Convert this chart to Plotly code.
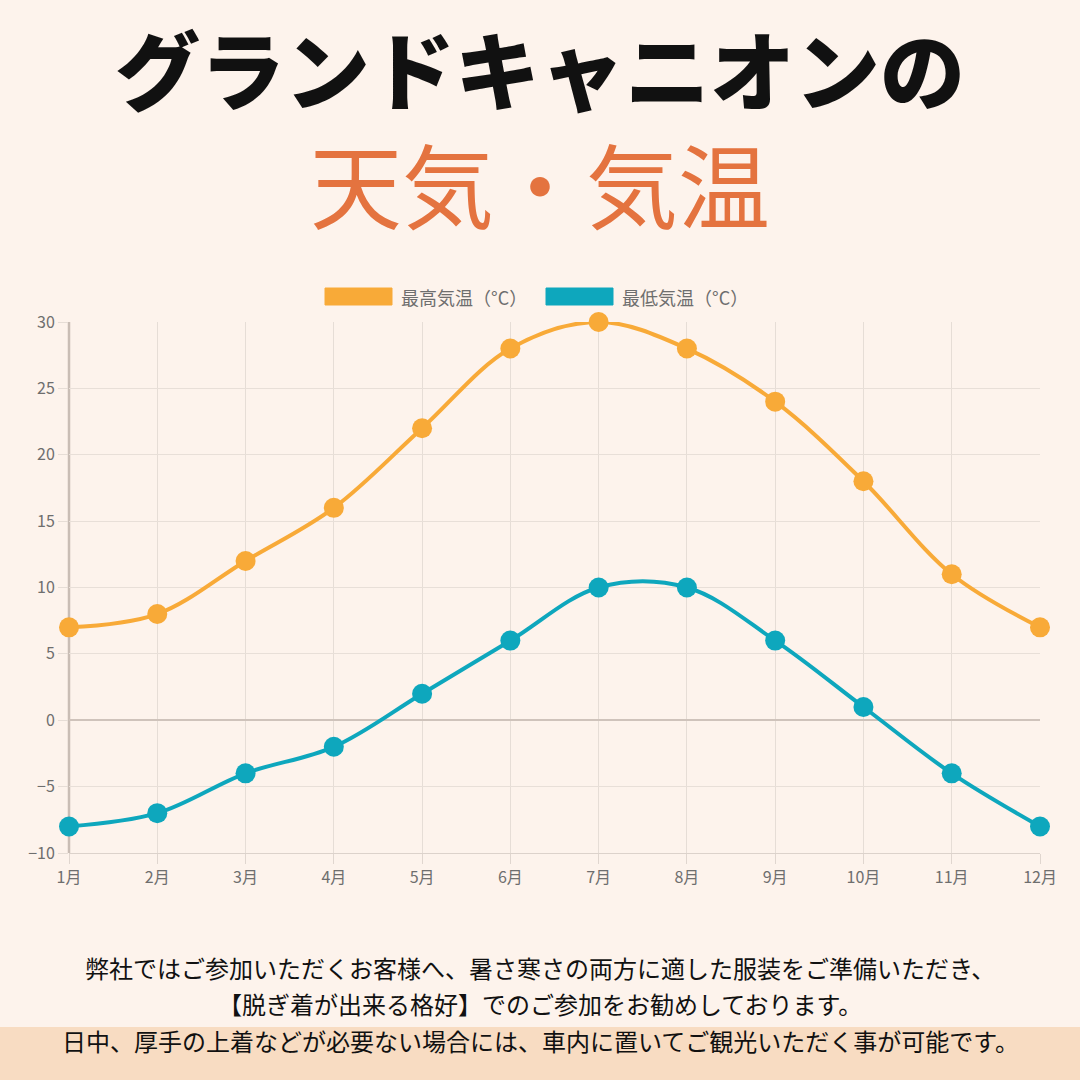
import plotly.graph_objects as go

months = ["1月", "2月", "3月", "4月", "5月", "6月", "7月", "8月", "9月", "10月", "11月", "12月"]
high_temp = [7, 8, 12, 16, 22, 28, 30, 28, 24, 18, 11, 7]
low_temp = [-8, -7, -4, -2, 2, 6, 10, 10, 6, 1, -4, -8]
series_names = ["最高気温（°C）", "最低気温（°C）"]
y_ticks = [-10, -5, 0, 5, 10, 15, 20, 25, 30]

ORANGE = "#F8AA38"
TEAL = "#0EA7BD"
BG = "#FDF3EC"
FONT = "Noto Sans CJK JP"

fig = go.Figure()
for vals, color, name in [(high_temp, ORANGE, series_names[0]), (low_temp, TEAL, series_names[1])]:
    fig.add_trace(go.Scatter(
        x=months, y=vals, name=name, mode="lines+markers",
        line=dict(color=color, width=4, shape="spline", smoothing=1.0),
        marker=dict(color=color, size=20),
        cliponaxis=False, showlegend=False,
    ))

W, H = 1080, 1080
ml, mr, mt, mb = 69, 40, 322, 227
fig.update_layout(
    width=W, height=H,
    margin=dict(l=ml, r=mr, t=mt, b=mb),
    paper_bgcolor=BG, plot_bgcolor=BG,
    font=dict(family=FONT, color="#6E6E6E", size=16),
    xaxis=dict(
        range=[0, 11], showgrid=True, gridcolor="#E6DDD6", gridwidth=1,
        ticks="outside", ticklen=10, tickcolor="#E0D6CF",
        tickfont=dict(size=16, color="#6E6E6E"),
        showline=True, linecolor="#DCD2CB", mirror=False, zeroline=False,
        fixedrange=True,
    ),
    yaxis=dict(
        range=[-10, 30], tickvals=y_ticks, showgrid=True, gridcolor="#E8DFD8", gridwidth=1,
        ticks="outside", ticklen=10, tickcolor="#E6DDD6",
        tickfont=dict(size=16, color="#6E6E6E"),
        zeroline=True, zerolinecolor="#CFC3BB", zerolinewidth=1.5,
        showline=False,
    ),
    showlegend=False,
)

# y axis left line (darker)
fig.add_shape(type="line", xref="paper", yref="paper", x0=0, x1=0, y0=0, y1=1,
              line=dict(color="#C9BDB5", width=2.5), layer="below")

# bottom band
fig.add_shape(type="rect", xref="paper", yref="paper",
              x0=-ml / (W - ml - mr), x1=1 + mr / (W - ml - mr),
              y0=-mb / (H - mt - mb), y1=-(mb - 53) / (H - mt - mb),
              fillcolor="#F8DCC2", line=dict(width=0), layer="below")

def px_x(x):
    return (x - ml) / (W - ml - mr)

def px_y(y):
    return (H - mb - y) / (H - mt - mb)

# custom legend
legend_items = [(ORANGE, series_names[0], 325), (TEAL, series_names[1], 546)]
for color, name, x0 in legend_items:
    fig.add_shape(type="rect", xref="paper", yref="paper",
                  x0=px_x(x0), x1=px_x(x0 + 67), y0=px_y(305), y1=px_y(288),
                  fillcolor=color, line=dict(color=color, width=1))
    fig.add_annotation(xref="paper", yref="paper", x=px_x(x0 + 74), y=px_y(297),
                       text=name, showarrow=False, xanchor="left", yanchor="middle",
                       font=dict(size=18, color="#6E6E6E", family=FONT))

# titles
fig.add_annotation(xref="paper", yref="paper", x=px_x(540), y=px_y(66),
                   text="グランドキャニオンの", showarrow=False, xanchor="center", yanchor="middle",
                   font=dict(size=85, color="#111111", family=FONT, weight=900))
fig.add_annotation(xref="paper", yref="paper", x=px_x(540), y=px_y(182),
                   text="天気・気温", showarrow=False, xanchor="center", yanchor="middle",
                   font=dict(size=92, color="#E4733F", family=FONT, weight=400))

# bottom text
bottom_lines = [
    ("弊社ではご参加いただくお客様へ、暑さ寒さの両方に適した服装をご準備いただき、", 967),
    ("【脱ぎ着が出来る格好】でのご参加をお勧めしております。", 1003),
    ("日中、厚手の上着などが必要ない場合には、車内に置いてご観光いただく事が可能です。", 1040),
]
for t, y in bottom_lines:
    fig.add_annotation(xref="paper", yref="paper", x=px_x(540), y=px_y(y),
                       text=t, showarrow=False, xanchor="center", yanchor="middle",
                       font=dict(size=24, color="#111111", family=FONT))

fig.write_html("out.html")
